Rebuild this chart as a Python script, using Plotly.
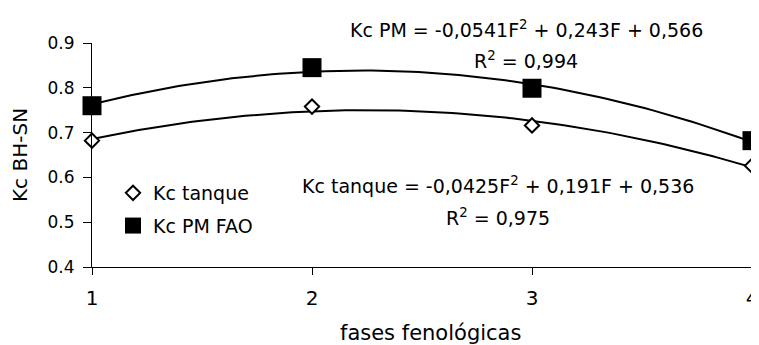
import numpy as np
import plotly.graph_objects as go

fases = [1, 2, 3, 4]
kc_tanque = [0.682, 0.758, 0.716, 0.626]
kc_pm = [0.760, 0.845, 0.799, 0.682]
y_ticks = [0.4, 0.5, 0.6, 0.7, 0.8, 0.9]

eq_pm = "Kc PM = -0,0541F<sup>2</sup> + 0,243F + 0,566"
r2_pm = "R<sup>2</sup> = 0,994"
eq_tq = "Kc tanque = -0,0425F<sup>2</sup> + 0,191F + 0,536"
r2_tq = "R<sup>2</sup> = 0,975"

FONT = "DejaVu Sans, Arial, sans-serif"

xs = np.linspace(1, 4, 100)
fit_tq = np.polyval(np.polyfit(fases, kc_tanque, 2), xs)
fit_pm = np.polyval(np.polyfit(fases, kc_pm, 2), xs)

fig = go.Figure()
fig.add_trace(go.Scatter(x=xs, y=fit_pm, mode="lines", line=dict(color="black", width=2),
                         showlegend=False, hoverinfo="skip", cliponaxis=False))
fig.add_trace(go.Scatter(x=xs, y=fit_tq, mode="lines", line=dict(color="black", width=2),
                         showlegend=False, hoverinfo="skip", cliponaxis=False))
fig.add_trace(go.Scatter(x=fases, y=kc_tanque, mode="markers", name="Kc tanque",
                         legendgroup="a",
                         marker=dict(symbol="diamond", size=11, color="white",
                                     line=dict(color="black", width=2)),
                         cliponaxis=False))
fig.add_trace(go.Scatter(x=fases, y=kc_pm, mode="markers", name="Kc PM FAO",
                         legendgroup="b",
                         marker=dict(symbol="square", size=19, color="black",
                                     line=dict(color="black", width=0)),
                         cliponaxis=False))

# the page body has an 8px margin: work in screen pixels and shift
OFF = 8
W, H = 759 - OFF, 345 - OFF
L, R, T, B = 92 - OFF, 752 - OFF, 43 - OFF, 267 - OFF
def px(xs_):
    return (xs_ - OFF - L) / float(R - L)
def py(ys_):
    return (B - (ys_ - OFF)) / float(B - T)

def ann(text, x, y, size, **kw):
    return dict(text=text, x=px(x), y=py(y), xref="paper", yref="paper",
                xanchor="center", yanchor="middle", showarrow=False,
                font=dict(family=FONT, size=size, color="black"), **kw)

fig.update_layout(
    annotations=[
        ann(eq_pm, 526, 29, 19),
        ann(r2_pm, 526, 60, 19),
        ann(eq_tq, 498, 185, 19),
        ann(r2_tq, 498, 217, 19),
        ann("fases fenológicas", 430, 333, 21),
        ann("Kc BH-SN", 20, 155, 20, textangle=-90),
    ],
    width=W, height=H,
    margin=dict(l=L, r=W - R, t=T, b=H - B, autoexpand=False),
    paper_bgcolor="white", plot_bgcolor="white",
    font=dict(family=FONT, size=17, color="black"),
    showlegend=True,
    legend=dict(x=px(113), y=py(174), xanchor="left", yanchor="top",
                bgcolor="rgba(0,0,0,0)", tracegroupgap=5,
                font=dict(family=FONT, size=19, color="black")),
    xaxis=dict(range=[1, 4], tickvals=fases, ticktext=[str(f) for f in fases],
               showgrid=False, zeroline=False, showline=True, linecolor="black",
               linewidth=1, ticks="outside", ticklen=7, tickcolor="black",
               tickfont=dict(family=FONT, size=20, color="black"),
               ticklabelstandoff=6, ticklabeloverflow="allow",
               automargin=False),
    yaxis=dict(range=[0.4, 0.9], tickvals=y_ticks,
               ticktext=["%.1f" % v for v in y_ticks],
               showgrid=False, zeroline=False, showline=True, linecolor="black",
               linewidth=1, ticks="outside", ticklen=8, tickcolor="black",
               tickfont=dict(family=FONT, size=17, color="black"),
               ticklabelstandoff=5, automargin=False),
)

fig.write_html("out.html")
